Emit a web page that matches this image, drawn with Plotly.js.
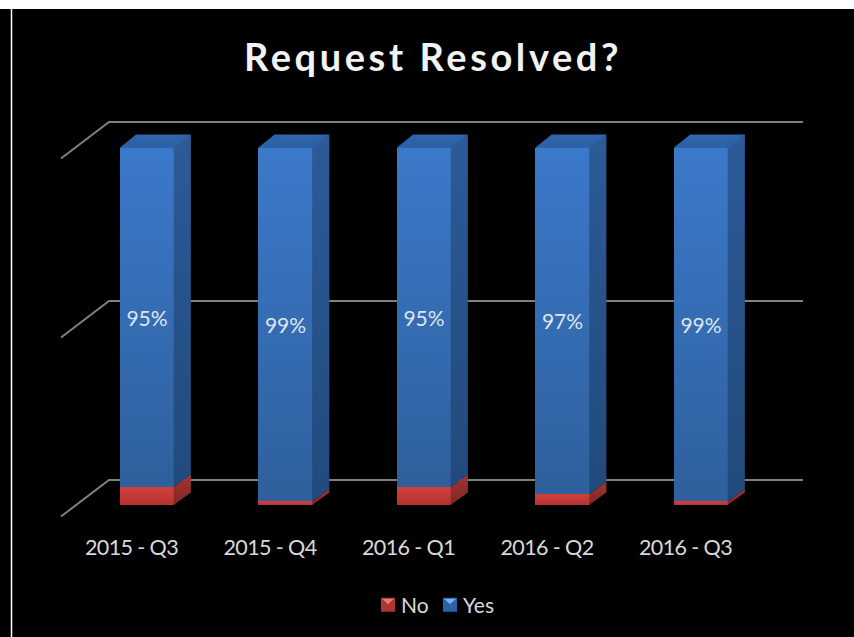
<!DOCTYPE html>
<html><head><meta charset="utf-8">
<script src="https://cdn.plot.ly/plotly-3.0.1.min.js"></script>
<style>
html,body{margin:0;padding:0;background:#fff;overflow:hidden}
#chart{position:absolute;left:0;top:9px;width:854px;height:628px}
.gtitle{letter-spacing:3.6px}
.xtick text{letter-spacing:-0.6px}
</style></head><body><div id="chart"></div>
<script>
const categories=["2015 - Q3","2015 - Q4","2016 - Q1","2016 - Q2","2016 - Q3"];
const noValues=[5,1,5,3,1];
const yesValues=[95,99,95,97,99];
const yesLabels=["95%","99%","95%","97%","99%"];
const gridValues=[0,50,100];

// plot geometry (axis units)
const pxX=138.5, pxY=3.58;
const left=12, right=854, plotTop=9, plotBottom=518;
const zeroPx=505, firstCenterPx=147;
const barW=0.395, depthX=16.5/pxX, depthY=12.5/pxY;
const overlapX=0.7/pxX, overlapY=0.7/pxY;
const floorBackX=48/pxX, gridBackY=25/pxY, gridFrontY=-11.5/pxY;
const labelShift=15.5/pxX;
const xRange=[(left-firstCenterPx)/pxX,(right-firstCenterPx)/pxX];
const yRange=[(zeroPx-plotBottom)/pxY,(zeroPx-plotTop)/pxY];
const gridLeftX=(61-firstCenterPx)/pxX, gridRightX=(803-firstCenterPx)/pxX;

function poly(xs,ys,colors){
  return {type:'scatter',mode:'lines',x:xs.concat(xs[0]),y:ys.concat(ys[0]),fill:'toself',
    line:{width:0,color:'rgba(0,0,0,0)'},showlegend:false,hoverinfo:'skip',
    fillgradient:{type:'vertical',colorscale:[[0,colors[0]],[1,colors[1]]]}};
}
const traces=[
 {type:'bar',name:'No',x:categories.map((_,i)=>i),y:noValues,width:barW,marker:{color:'#c63b38',line:{width:0}},
  textposition:'none',hoverinfo:'skip'},
 {type:'bar',name:'Yes',x:categories.map((_,i)=>i),y:yesValues,width:barW,text:yesLabels,
  marker:{color:'#3870b8',line:{width:0},cornerradius:3},
  textposition:'inside',insidetextanchor:'middle',textangle:0,constraintext:'none',
  textfont:{family:'Lato',size:21,color:'#dfe6f0'},hoverinfo:'skip'}
];
categories.forEach((_,i)=>{
  const r=i+barW/2, l=i-barW/2, n=noValues[i], t=n+yesValues[i];
  const rs=r-overlapX, ts=t-overlapY;
  traces.push(poly([rs,r+depthX,r+depthX,rs],[0,depthY,n+depthY,n],['#7e2725','#a33431']));
  traces.push(poly([rs,r+depthX,r+depthX,rs],[n,n+depthY,t+depthY,t],['#224a7c','#2c5b98']));
  traces.push(poly([l,l+depthX,r+depthX,r],[ts,t+depthY,t+depthY,ts],['#2c5fa6','#2f66ad']));
});
const shapes=gridValues.map(v=>{
  const b=v+gridBackY, f=v+gridFrontY;
  return {type:'path',layer:'below',xref:'x',yref:'y',
    path:`M${gridLeftX},${f}L${gridLeftX+floorBackX},${b}L${gridRightX},${b}`,
    line:{color:'#808080',width:2}};
});
shapes.push({type:'line',xref:'paper',yref:'paper',x0:-0.5/842,x1:-0.5/842,y0:-1,y1:3,line:{color:'#ffffff',width:1.5}});

const layout={
  width:854,height:628,
  paper_bgcolor:'#000',plot_bgcolor:'rgba(0,0,0,0)',
  margin:{l:left,r:854-right,t:plotTop-9,b:637-plotBottom,pad:0},
  barmode:'stack',
  title:{text:'<b>Request Resolved?</b>',x:433/854,xanchor:'center',y:1-49/628,yanchor:'middle',
    font:{family:'Lato',size:38,color:'#f2f2f2'}},
  xaxis:{range:xRange,tickmode:'array',tickvals:categories.map((_,i)=>i-labelShift),ticktext:categories,
    showgrid:false,zeroline:false,showline:false,ticks:'outside',ticklen:10,tickcolor:'rgba(0,0,0,0)',
    tickfont:{family:'Lato',size:21.5,color:'#d9d9d9'}},
  yaxis:{range:yRange,showgrid:false,zeroline:false,showline:false,showticklabels:false,ticks:''},
  shapes:shapes,
  showlegend:true,
  legend:{orientation:'h',traceorder:'normal',x:(361-12)/842,xanchor:'left',y:-(605-518)/509,yanchor:'middle',
    entrywidth:40,entrywidthmode:'pixels',
    font:{family:'Lato',size:21,color:'#d9d9d9'},bgcolor:'rgba(0,0,0,0)'}
};
Plotly.newPlot('chart',traces,layout,{displayModeBar:false,staticPlot:true}).then(gd=>{
  const svg=gd.querySelector('.main-svg');
  const NS='http://www.w3.org/2000/svg';
  const defs=document.createElementNS(NS,'defs');
  [['gNo','#d2403d','#b43330'],['gYes','#3b79ca','#2f609d']].forEach(([id,a,b])=>{
    const g=document.createElementNS(NS,'linearGradient');
    g.id=id;g.setAttribute('x1','0');g.setAttribute('y1','0');g.setAttribute('x2','0');g.setAttribute('y2','1');
    [[0,a],[1,b]].forEach(([o,c])=>{const s=document.createElementNS(NS,'stop');s.setAttribute('offset',o);s.setAttribute('stop-color',c);g.appendChild(s);});
    defs.appendChild(g);
  });
  svg.insertBefore(defs,svg.firstChild);
  const tr=gd.querySelectorAll('.barlayer .trace');
  tr[0].querySelectorAll('.point path').forEach(p=>p.style.fill='url(#gNo)');
  tr[1].querySelectorAll('.point path').forEach(p=>p.style.fill='url(#gYes)');
  // bevelled legend keys, as in the reference; second key closed up to the first
  const bevel=[['#ad3533','#e57b78'],['#2c62a6','#74b4f2']];
  const items=gd.querySelectorAll('.legend .traces');
  items.forEach((item,k)=>{
    const pts=item.querySelector('.legendpoints');
    const path=pts.querySelector('path');
    path.setAttribute('d','M7,7H-7V-7H7Z');
    path.setAttribute('transform','translate(27,0)');
    path.style.fill=bevel[k][0];path.style.stroke='none';
    const tri=document.createElementNS(NS,'path');
    tri.setAttribute('d','M-6,-6H6L0,-0.5Z');
    tri.setAttribute('transform','translate(27,0)');
    tri.style.fill=bevel[k][1];
    pts.appendChild(tri);
  });
  const first=items[0].getBoundingClientRect().left, second=items[1];
  const m=/translate\(([-\d.]+)[ ,]+([-\d.]+)\)/.exec(second.getAttribute('transform'));
  if(m) second.setAttribute('transform',`translate(${+m[1]-(+m[1]-62)},${m[2]})`);
});
</script></body></html>
